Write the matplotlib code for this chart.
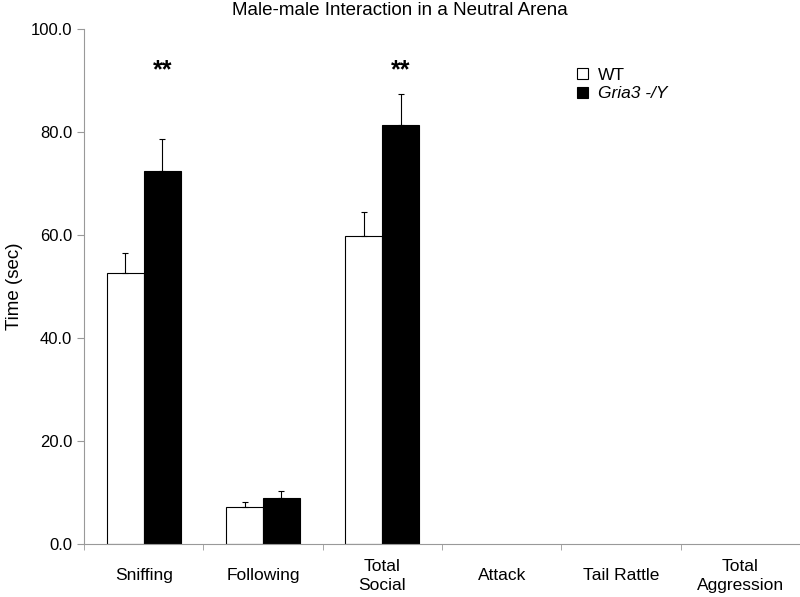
import numpy as np
import matplotlib
matplotlib.use('Agg')
import matplotlib.pyplot as plt
from matplotlib.patches import Patch

plt.rcParams['font.family'] = ['Liberation Sans', 'DejaVu Sans']

categories = ['Sniffing', 'Following', 'Total\nSocial', 'Attack', 'Tail Rattle', 'Total\nAggression']
wt = [52.7, 7.1, 59.9, 0, 0, 0]
wt_err = [3.8, 1.1, 4.5, 0, 0, 0]
ko = [72.5, 8.9, 81.4, 0, 0, 0]
ko_err = [6.2, 1.4, 5.9, 0, 0, 0]
stars = ['**', '', '**', '', '', '']

fig = plt.figure(figsize=[8, 5.97], dpi=100)
ax = fig.add_axes([0.105, 0.0888, 0.895, 0.8626])

x = np.arange(len(categories))
w = 0.31
wt_a = np.array(wt)
ko_a = np.array(ko)
ax.bar(x[wt_a > 0] - w/2, wt_a[wt_a > 0], w, color='white', edgecolor='black', linewidth=0.8)
ax.bar(x[ko_a > 0] + w/2, ko_a[ko_a > 0], w, color='black', edgecolor='black', linewidth=0.8)
for i in range(len(categories)):
    if wt[i] > 0:
        ax.errorbar(x[i] - w/2, wt[i], yerr=[[0], [wt_err[i]]], fmt='none',
                    ecolor='black', elinewidth=0.8, capsize=2.5, capthick=0.8)
    if ko[i] > 0:
        ax.errorbar(x[i] + w/2, ko[i], yerr=[[0], [ko_err[i]]], fmt='none',
                    ecolor='black', elinewidth=0.8, capsize=2.5, capthick=0.8)
for i, s in enumerate(stars):
    if s:
        ax.text(x[i] + w/2, 92.0, s, ha='center', va='center', fontsize=18, fontweight='bold')

ax.set_xlim(-0.5, 5.5)
ax.set_ylim(0, 100)
ax.set_yticks(np.arange(0, 101, 20))
ax.set_yticklabels(['%.1f' % v for v in np.arange(0, 101, 20)], fontsize=12)
ax.set_xticks(x)
ax.set_xticklabels(categories, fontsize=12.5, va='center', linespacing=1.4)
ax.set_xticks(np.arange(-0.5, 5.6, 1), minor=True)
ax.tick_params(axis='x', which='major', length=0, pad=23)
ax.tick_params(axis='x', which='minor', length=4, color='#999999', direction='out')
ax.tick_params(axis='y', length=5, color='#999999', direction='out')

for sp in ['top', 'right']:
    ax.spines[sp].set_visible(False)
for sp in ['left', 'bottom']:
    ax.spines[sp].set_color('#999999')

ax.set_ylabel('Time (sec)', fontsize=13.5)
ax.yaxis.set_label_coords(-0.085, 0.5)
fig.text(0.5, 0.982, 'Male-male Interaction in a Neutral Arena', ha='center', va='center', fontsize=13.5)

handles = [Patch(facecolor='white', edgecolor='black', linewidth=0.8),
           Patch(facecolor='black', edgecolor='black', linewidth=0.8)]
leg = ax.legend(handles, ['WT', 'Gria3 -/Y'], loc='upper left', bbox_to_anchor=(0.667, 0.955),
                frameon=False, fontsize=12.5, handlelength=0.6, handleheight=0.6,
                handletextpad=0.6, labelspacing=0.2)
leg.get_texts()[1].set_fontstyle('italic')

fig.savefig('out.png', dpi=100)
